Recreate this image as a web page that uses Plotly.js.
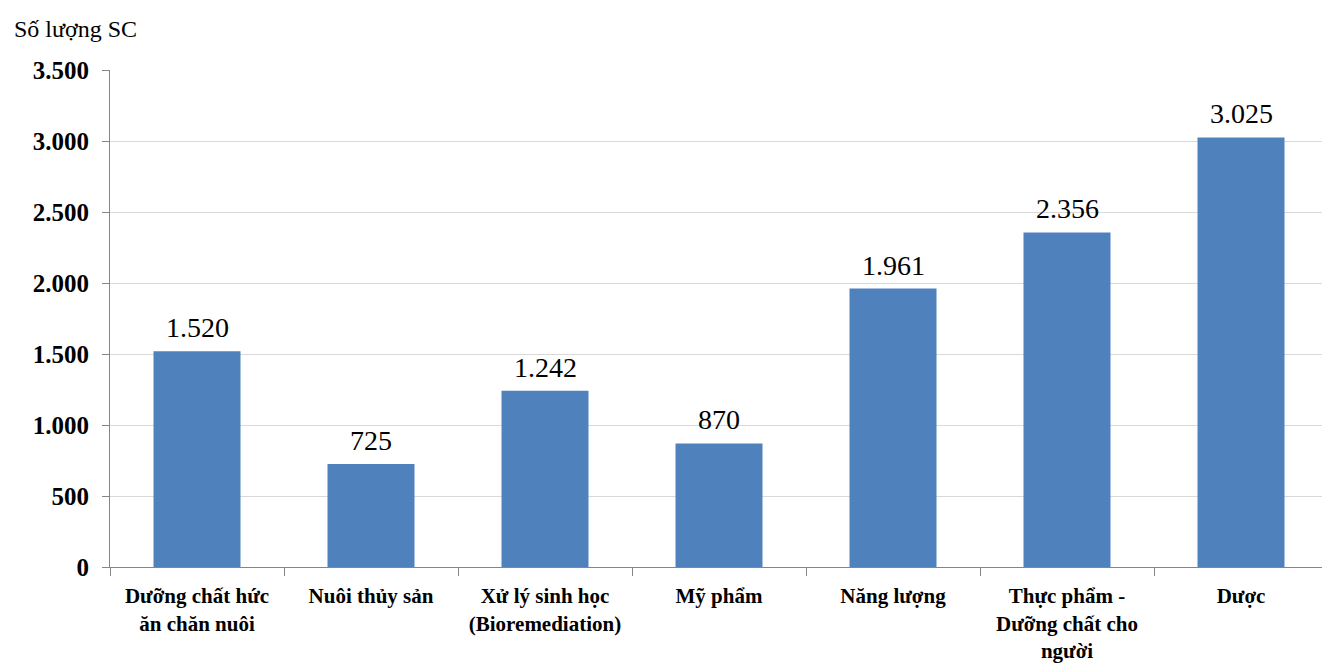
<!DOCTYPE html>
<html>
<head>
<meta charset="utf-8">
<script src="https://cdn.plot.ly/plotly-3.0.1.min.js"></script>
<style>
  html, body { margin: 0; padding: 0; background: #fff; overflow: hidden; }
  #chart { width: 1328px; height: 665px; }
</style>
</head>
<body>
<div id="chart"></div>
<script>
// Số lượng SC theo lĩnh vực ứng dụng
const categories = [
  "Dưỡng chất hức<br>ăn chăn nuôi",
  "Nuôi thủy sản",
  "Xử lý sinh học<br>(Bioremediation)",
  "Mỹ phẩm",
  "Năng lượng",
  "Thực phẩm -<br>Dưỡng chất cho<br>người",
  "Dược"
];
const counts = [1520, 725, 1242, 870, 1961, 2356, 3025];
const yTicks = [0, 500, 1000, 1500, 2000, 2500, 3000, 3500];

const fmt = v => v.toString().replace(/\B(?=(\d{3})+(?!\d))/g, ".");

const serif = "'Liberation Serif', 'Times New Roman', serif";

const trace = {
  type: "bar",
  x: categories,
  y: counts,
  marker: { color: "#4F81BD" },
  hoverinfo: "skip"
};

const valueLabels = categories.map((c, i) => ({
  x: c, y: counts[i], xref: "x", yref: "y",
  text: fmt(counts[i]),
  showarrow: false,
  yanchor: "bottom",
  yshift: 6,
  font: { family: serif, size: 28, color: "#000" }
}));

const layout = {
  width: 1328,
  height: 665,
  margin: { l: 110, r: 0, t: 70, b: 98 },
  paper_bgcolor: "#fff",
  plot_bgcolor: "#fff",
  showlegend: false,
  bargap: 0.5,
  font: { family: serif },
  xaxis: {
    type: "category",
    showline: true,
    linecolor: "#868686",
    linewidth: 1,
    ticks: "outside",
    tickson: "boundaries",
    ticklen: 8,
    tickcolor: "#868686",
    showgrid: false,
    ticklabelstandoff: 10,
    tickfont: { family: serif, size: 21, color: "#000", weight: "bold" },
    automargin: false
  },
  yaxis: {
    range: [0, 3500],
    tickvals: yTicks,
    ticktext: yTicks.map(fmt),
    showline: true,
    linecolor: "#868686",
    linewidth: 1,
    ticks: "outside",
    ticklen: 7,
    tickcolor: "#868686",
    showgrid: true,
    gridcolor: "#d9d9d9",
    gridwidth: 1,
    zeroline: false,
    ticklabelstandoff: 8,
    tickfont: { family: serif, size: 25, color: "#000", weight: "bold" },
    automargin: false
  },
  annotations: [
    ...valueLabels,
    {
      xref: "paper", yref: "paper",
      x: -98 / 1218, y: 1,
      xanchor: "left", yanchor: "bottom",
      yshift: 26,
      text: "Số lượng SC",
      showarrow: false,
      font: { family: serif, size: 24, color: "#000" }
    }
  ]
};

Plotly.newPlot("chart", [trace], layout, { displayModeBar: false, staticPlot: true });
</script>
</body>
</html>
